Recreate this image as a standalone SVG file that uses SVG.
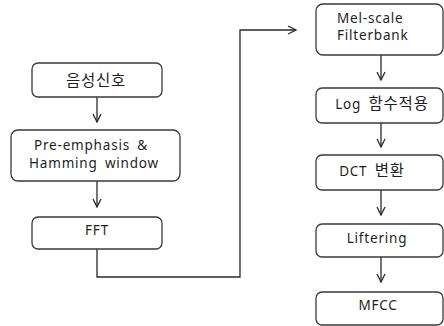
<svg xmlns="http://www.w3.org/2000/svg" width="444" height="326" viewBox="0 0 444 326">
<defs>
<style>
.box{fill:#fff;stroke:#3a3a3a;stroke-width:1.3}
.t{font-family:"Noto Sans","Noto Sans CJK KR",sans-serif;font-size:13.5px;fill:#1e1e1e;letter-spacing:0.8px;word-spacing:3px}
.k{font-size:15.5px}
.c{text-anchor:middle}
.ln{fill:none;stroke:#2a2a2a;stroke-width:1.3}
</style>
<marker id="ah" viewBox="0 0 10 10" refX="9" refY="5" markerWidth="10" markerHeight="10" markerUnits="userSpaceOnUse" orient="auto">
<polyline points="1,1 9,5 1,9" fill="none" stroke="#2a2a2a" stroke-width="1.3"/>
</marker>
</defs>
<rect width="444" height="326" fill="#fff"/>
<g id="connectors">
<line class="ln" x1="97" y1="97" x2="97" y2="122" marker-end="url(#ah)"/>
<line class="ln" x1="97" y1="181" x2="97" y2="207" marker-end="url(#ah)"/>
<polyline class="ln" points="97,249 97,277 240,277 240,30 296,30" marker-end="url(#ah)"/>
<line class="ln" x1="381" y1="55" x2="381" y2="80" marker-end="url(#ah)"/>
<line class="ln" x1="381" y1="123" x2="381" y2="147" marker-end="url(#ah)"/>
<line class="ln" x1="381" y1="190" x2="381" y2="215" marker-end="url(#ah)"/>
<line class="ln" x1="381" y1="257" x2="381" y2="282" marker-end="url(#ah)"/>
</g>
<g id="n1"><rect class="box" x="32" y="63" width="130" height="34" rx="6"/><text class="t c k" x="96" y="86">음성신호</text></g>
<g id="n2"><rect class="box" x="11" y="130" width="169" height="51" rx="7"/><text class="t c" x="91" y="150">Pre-emphasis &amp;</text><text class="t c" x="94" y="168">Hamming window</text></g>
<g id="n3"><rect class="box" x="32" y="217" width="130" height="32" rx="6"/><text class="t c" x="97" y="235">FFT</text></g>
<g id="n4"><rect class="box" x="316" y="4" width="127" height="51" rx="7"/><text class="t" x="337" y="23">Mel-scale</text><text class="t" x="337" y="40">Filterbank</text></g>
<g id="n5"><rect class="box" x="316" y="88" width="127" height="35" rx="6"/><text class="t c" x="382" y="109">Log <tspan class="k">함수적용</tspan></text></g>
<g id="n6"><rect class="box" x="316" y="155" width="127" height="35" rx="6"/><text class="t c" x="372" y="176">DCT <tspan class="k">변환</tspan></text></g>
<g id="n7"><rect class="box" x="316" y="224" width="127" height="33" rx="6"/><text class="t c" x="377" y="243">Liftering</text></g>
<g id="n8"><rect class="box" x="316" y="292" width="127" height="33" rx="6"/><text class="t c" x="378" y="310">MFCC</text></g>
</svg>
